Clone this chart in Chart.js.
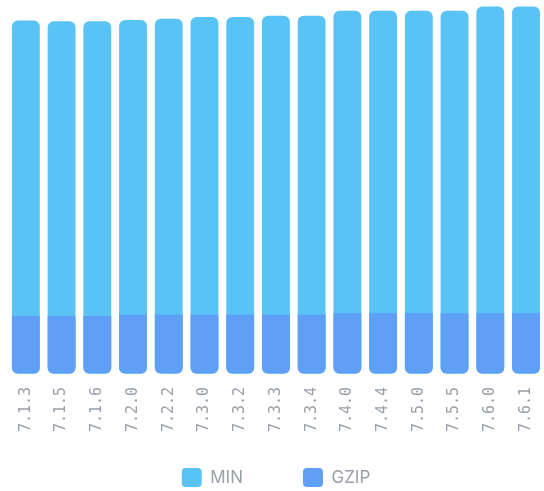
<!DOCTYPE html>
<html>
<head>
<meta charset="utf-8">
<style>
  html, body { margin: 0; padding: 0; background: #ffffff; overflow: hidden; }
  #wrap { position: relative; width: 544px; height: 497px; }
</style>
<script src="https://cdn.jsdelivr.net/npm/chart.js@4.4.1/dist/chart.umd.min.js"></script>
</head>
<body>
<div id="wrap"><canvas id="c"></canvas></div>
<script>
// Versions (x-axis categories)
const versions = ['7.1.3','7.1.5','7.1.6','7.2.0','7.2.2','7.3.0','7.3.2','7.3.3','7.3.4','7.4.0','7.4.4','7.5.0','7.5.5','7.6.0','7.6.1'];
// Minified size (kB)
const minSizes = [100.7, 100.5, 100.5, 100.9, 101.2, 101.7, 101.7, 102.1, 102.1, 103.5, 103.5, 103.5, 103.5, 104.7, 104.7];
// Gzipped size (kB)
const gzipSizes = [16.5, 16.5, 16.5, 16.9, 16.9, 16.9, 16.9, 16.9, 16.9, 17.3, 17.3, 17.3, 17.3, 17.3, 17.3];
const yMax = 106;

const MIN_COLOR = '#5ac3f6';
const GZIP_COLOR = '#5f9ff5';
const TEXT_GREY = '#9aa0a8';

new Chart(document.getElementById('c'), {
  type: 'bar',
  data: {
    labels: versions,
    datasets: [
      {
        label: 'MIN',
        data: minSizes,
        backgroundColor: MIN_COLOR,
        borderRadius: 6,
        borderSkipped: false,
        order: 2
      },
      {
        label: 'GZIP',
        data: gzipSizes,
        backgroundColor: GZIP_COLOR,
        borderRadius: { topLeft: 0, topRight: 0, bottomLeft: 6, bottomRight: 6 },
        borderSkipped: false,
        order: 1
      }
    ]
  },
  options: {
    responsive: true,
    maintainAspectRatio: false,
    animation: false,
    layout: { padding: { left: 8, right: 0, top: 2, bottom: 0 } },
    datasets: {
      bar: { categoryPercentage: 1, barPercentage: 0.78 }
    },
    scales: {
      x: {
        stacked: true,
        grid: { display: false, drawTicks: true, tickLength: 13 },
        border: { display: false },
        ticks: {
          color: TEXT_GREY,
          font: { family: '"DejaVu Sans Mono", monospace', size: 15 },
          minRotation: 90,
          maxRotation: 90,
          padding: 0,
          autoSkip: false
        }
      },
      y: {
        stacked: false,
        display: false,
        min: 0,
        max: yMax
      }
    },
    plugins: {
      tooltip: { enabled: false },
      legend: {
        position: 'bottom',
        title: {
          display: true,
          text: '',
          color: 'rgba(0,0,0,0)',
          font: { size: 10, lineHeight: 1 },
          padding: { top: -34, bottom: 0 }
        },
        labels: {
          color: TEXT_GREY,
          font: { family: 'Inter, "Open Sans", sans-serif', size: 17 },
          boxWidth: 20,
          boxHeight: 19,
          useBorderRadius: true,
          borderRadius: 4,
          padding: 60,
          sort: (a, b) => a.datasetIndex - b.datasetIndex
        }
      }
    }
  }
});
</script>
</body>
</html>
